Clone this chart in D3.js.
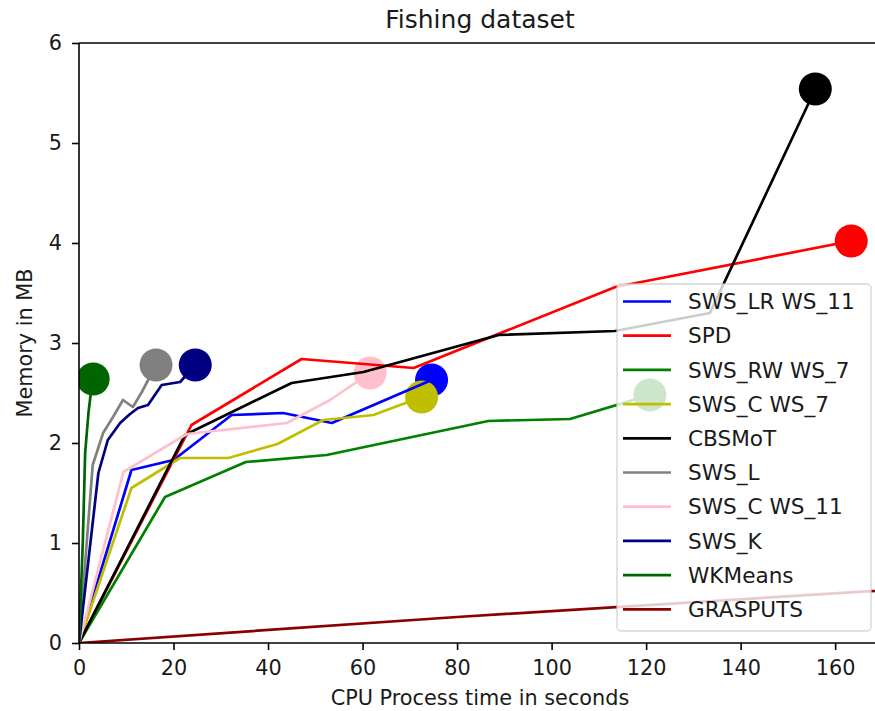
<!DOCTYPE html>
<html>
<head>
<meta charset="utf-8">
<script src="https://cdn.jsdelivr.net/npm/d3@7"></script>
<style>
  html, body { margin: 0; padding: 0; background: #fff; }
  #chart { width: 875px; height: 711px; overflow: hidden; }
  text { font-family: "DejaVu Sans", sans-serif; fill: #1a1a1a; }
  .tick text { font-size: 20.8px; }
  .axis-label { font-size: 20.8px; }
  .chart-title { font-size: 25px; }
  .legend-label { font-size: 21.6px; }
</style>
</head>
<body>
<div id="chart"></div>
<script>
'use strict';

// ============================================================
//  Fishing dataset — memory vs CPU process time per method
//  Each method is a polyline; its last run is marked by a big dot.
// ============================================================

// ── Data ────────────────────────────────────────────────────
const swsLrX  = [0, 11.1, 20, 32.3, 43.2, 53.5, 74.6];
const swsLrY  = [0, 1.73, 1.83, 2.28, 2.30, 2.20, 2.63];

const spdX    = [0, 22.6, 23.8, 47.1, 70.8, 113.5, 163.4];
const spdY    = [0, 2.07, 2.18, 2.84, 2.75, 3.56, 4.02];

const swsRwX  = [0, 18.2, 35.3, 52.4, 86.6, 103.9, 120.8];
const swsRwY  = [0, 1.46, 1.81, 1.88, 2.22, 2.24, 2.48];

const swsC7X  = [0, 11.1, 21.4, 31.6, 42, 51.7, 62.3, 72.5];
const swsC7Y  = [0, 1.55, 1.85, 1.85, 1.99, 2.23, 2.28, 2.46];

const cbsmotX = [0, 22.4, 45, 60.2, 88.8, 113.4, 133.5, 155.8];
const cbsmotY = [0, 2.08, 2.60, 2.71, 3.08, 3.12, 3.30, 5.54];

const swsLX   = [0, 2.9, 5.1, 7.2, 9.3, 11.4, 13.3, 16.3];
const swsLY   = [0, 1.78, 2.10, 2.26, 2.43, 2.36, 2.51, 2.78];

const swsC11X = [0, 9.4, 22.8, 44, 53.1, 61.6];
const swsC11Y = [0, 1.71, 2.09, 2.20, 2.43, 2.70];

const swsKX   = [0, 4.1, 6.1, 8.7, 10.8, 12.5, 14.6, 17.5, 21.4, 24.6];
const swsKY   = [0, 1.70, 2.03, 2.20, 2.29, 2.35, 2.38, 2.58, 2.61, 2.78];

const wkmX    = [0, 0.8, 1.3, 2.0, 2.5, 3.0];
const wkmY    = [0, 1.0, 1.9, 2.3, 2.5, 2.64];

const graspX  = [0, 80, 185];
const graspY  = [0, 0.26, 0.57];

const METHODS = ['SWS_LR WS_11', 'SPD', 'SWS_RW WS_7', 'SWS_C WS_7', 'CBSMoT',
                 'SWS_L', 'SWS_C WS_11', 'SWS_K', 'WKMeans', 'GRASPUTS'];
const X_VALUES = [swsLrX, spdX, swsRwX, swsC7X, cbsmotX, swsLX, swsC11X, swsKX, wkmX, graspX];
const Y_VALUES = [swsLrY, spdY, swsRwY, swsC7Y, cbsmotY, swsLY, swsC11Y, swsKY, wkmY, graspY];

const X_TICKS = [0, 20, 40, 60, 80, 100, 120, 140, 160];
const Y_TICKS = [0, 1, 2, 3, 4, 5, 6];

// matplotlib named colours used by the original script
const COLOURS = ['#0000ff', '#ff0000', '#008000', '#bfbf00', '#000000',
                 '#808080', '#ffc0cb', '#000080', '#006400', '#8b0000'];

// ── 1. Layout ───────────────────────────────────────────────
// The axes box runs a few pixels past the right edge of the picture,
// exactly like the cropped original.
const totalW = 875, totalH = 711;
const margin = { top: 43, left: 79 };
const W = 802;
const H = 600;

const svg = d3.select('#chart').append('svg')
    .attr('width', totalW)
    .attr('height', totalH);

const chart = svg.append('g')
    .attr('transform', `translate(${margin.left},${margin.top})`);

svg.append('defs').append('clipPath')
    .attr('id', 'plot-clip')
  .append('rect')
    .attr('x', 0).attr('y', 0)
    .attr('width', W).attr('height', H);

// ── 2. Scales ───────────────────────────────────────────────
const xScale = d3.scaleLinear().domain([0, 169.7]).range([0, W]);
const yScale = d3.scaleLinear().domain([0, 6]).range([H, 0]);

const series = METHODS.map((name, i) => ({
    name,
    colour: COLOURS[i],
    points: X_VALUES[i].map((x, j) => ({ x, y: Y_VALUES[i][j] }))
}));

const plot = chart.append('g').attr('clip-path', 'url(#plot-clip)');

// ── 3. End-point dots (scatter sits below the lines) ────────
plot.selectAll('circle.end')
    .data(series)
    .join('circle')
    .attr('class', 'end')
    .attr('cx', d => xScale(d.points[d.points.length - 1].x))
    .attr('cy', d => yScale(d.points[d.points.length - 1].y))
    .attr('r', 16.5)
    .attr('fill', d => d.colour);

// ── 4. Lines ────────────────────────────────────────────────
const line = d3.line()
    .x(d => xScale(d.x))
    .y(d => yScale(d.y));

plot.selectAll('path.series')
    .data(series)
    .join('path')
    .attr('class', 'series')
    .attr('fill', 'none')
    .attr('stroke', d => d.colour)
    .attr('stroke-width', 2.7)
    .attr('stroke-linejoin', 'round')
    .attr('stroke-linecap', 'square')
    .attr('d', d => line(d.points));

// ── 5. Axes and spines ──────────────────────────────────────
const xAxis = chart.append('g')
    .attr('transform', `translate(0,${H})`)
    .call(d3.axisBottom(xScale).tickValues(X_TICKS).tickSize(7).tickPadding(10));

const yAxis = chart.append('g')
    .call(d3.axisLeft(yScale).tickValues(Y_TICKS).tickFormat(d3.format('d'))
        .tickSize(7).tickPadding(10));

[xAxis, yAxis].forEach(ax => {
    ax.select('.domain').remove();
    ax.selectAll('.tick line').attr('stroke', '#000').attr('stroke-width', 1.6);
    ax.selectAll('.tick text').attr('fill', '#1a1a1a').attr('font-family', 'DejaVu Sans');
});

// left, bottom, top spines (right one is off the picture)
chart.append('line').attr('x1', 0).attr('x2', 0).attr('y1', 0).attr('y2', H)
    .attr('stroke', '#000').attr('stroke-width', 1.6);
chart.append('line').attr('x1', 0).attr('x2', W).attr('y1', H).attr('y2', H)
    .attr('stroke', '#000').attr('stroke-width', 1.6);
chart.append('line').attr('x1', 0).attr('x2', W).attr('y1', 0).attr('y2', 0)
    .attr('stroke', '#000').attr('stroke-width', 1.6);

// ── 6. Labels and title ─────────────────────────────────────
svg.append('text')
    .attr('class', 'axis-label')
    .attr('x', margin.left + W / 2)
    .attr('y', 705)
    .attr('text-anchor', 'middle')
    .text('CPU Process time in seconds');

svg.append('text')
    .attr('class', 'axis-label')
    .attr('transform', `translate(32,${margin.top + H / 2}) rotate(-90)`)
    .attr('text-anchor', 'middle')
    .text('Memory in MB');

svg.append('text')
    .attr('class', 'chart-title')
    .attr('x', margin.left + W / 2)
    .attr('y', 28)
    .attr('text-anchor', 'middle')
    .text('Fishing dataset');

// ── 7. Legend (semi-transparent frame, like framealpha=0.8) ──
const legend = svg.append('g').attr('transform', 'translate(617,284)');
const rowH = 34.2;

legend.append('rect')
    .attr('x', 0).attr('y', 0)
    .attr('width', 254).attr('height', 347)
    .attr('rx', 4)
    .attr('fill', 'rgba(255,255,255,0.8)')
    .attr('stroke', 'rgba(204,204,204,0.8)')
    .attr('stroke-width', 1.4);

const rows = legend.selectAll('g.row')
    .data(series)
    .join('g')
    .attr('class', 'row')
    .attr('transform', (d, i) => `translate(0,${17.5 + i * rowH})`);

rows.append('line')
    .attr('x1', 6).attr('x2', 54)
    .attr('stroke', d => d.colour)
    .attr('stroke-width', 2.7);

rows.append('text')
    .attr('class', 'legend-label')
    .attr('x', 71)
    .attr('dy', '0.36em')
    .text(d => d.name);
</script>
</body>
</html>
